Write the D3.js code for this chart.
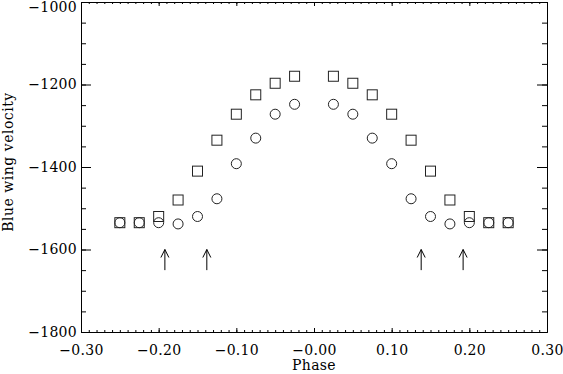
<!DOCTYPE html>
<html>
<head>
<meta charset="utf-8">
<script src="https://cdn.jsdelivr.net/npm/d3@7"></script>
<style>
  body { margin: 0; background: #fff; }
  text { font-family: "DejaVu Serif", serif; font-size: 14px; fill: #000; }
  .axis path, .axis line { stroke: #000; stroke-width: 1; }
</style>
</head>
<body>
<div class="container"></div>
<script>
// phases of the points (left and right wing)
let phases = [-0.25, -0.225, -0.20, -0.175, -0.15, -0.125, -0.10, -0.075, -0.05, -0.025,
              0.025, 0.05, 0.075, 0.10, 0.125, 0.15, 0.175, 0.20, 0.225, 0.25];
// squares
let squareVel = [-1535, -1535, -1520, -1480, -1410, -1335, -1272, -1225, -1197, -1180,
                 -1180, -1197, -1225, -1272, -1335, -1410, -1480, -1520, -1535, -1535];
// circles
let circleVel = [-1535, -1535, -1535, -1538, -1520, -1477, -1392, -1330, -1272, -1248,
                 -1248, -1272, -1330, -1392, -1477, -1520, -1538, -1535, -1535, -1535];
// arrows
let arrowPhases = [-0.192, -0.138, 0.138, 0.192];
let arrowFrom = -1650, arrowTo = -1600;

let xTicks = [-0.3, -0.2, -0.1, 0, 0.1, 0.2, 0.3];
let xTickLabels = ["\u22120.30", "\u22120.20", "\u22120.10", "\u22120.00", "0.10", "0.20", "0.30"];
let yTicks = [-1000, -1200, -1400, -1600, -1800];
let yTickLabels = ["\u22121000", "\u22121200", "\u22121400", "\u22121600", "\u22121800"];

let margin = { top: 2, right: 16, bottom: 42, left: 81 };
let width = 563 - margin.left - margin.right;
let height = 374 - margin.top - margin.bottom;

let svg = d3.select(".container")
    .append("svg")
    .attr("width", 563)
    .attr("height", 374)
    .append("g")
    .attr("transform", "translate(" + margin.left + "," + margin.top + ")");

let x = d3.scaleLinear().domain([-0.3, 0.3]).range([0, width]);
let y = d3.scaleLinear().domain([-1800, -1000]).range([height, 0]);

let xMinor = d3.range(-30, 31).map(d => d / 100);
let yMinor = d3.range(-1800, -999, 50);

// bottom axis
svg.append("g")
    .attr("class", "axis")
    .attr("transform", "translate(0," + height + ")")
    .call(d3.axisBottom(x).tickValues(xMinor).tickSize(-2).tickFormat("").tickSizeOuter(0));
svg.append("g")
    .attr("class", "axis")
    .attr("transform", "translate(0," + height + ")")
    .call(d3.axisBottom(x).tickValues(xTicks).tickSize(-4).tickSizeOuter(0).tickPadding(10)
        .tickFormat((d, i) => xTickLabels[i]))
    .selectAll("text").attr("dy", "0.9em");
// top axis
svg.append("g")
    .attr("class", "axis")
    .call(d3.axisTop(x).tickValues(xMinor).tickSize(-2).tickFormat("").tickSizeOuter(0));
svg.append("g")
    .attr("class", "axis")
    .call(d3.axisTop(x).tickValues(xTicks).tickSize(-4).tickFormat("").tickSizeOuter(0));
// left axis
svg.append("g")
    .attr("class", "axis")
    .call(d3.axisLeft(y).tickValues(yMinor).tickSize(-5).tickFormat("").tickSizeOuter(0));
svg.append("g")
    .attr("class", "axis yleft")
    .call(d3.axisLeft(y).tickValues(yTicks).tickSize(-10).tickSizeOuter(0).tickPadding(4)
        .tickFormat((d, i) => yTickLabels[i]));
// keep the top label inside the picture
svg.selectAll(".yleft .tick text")
    .filter(d => d === -1000)
    .attr("y", 5);
// right axis
svg.append("g")
    .attr("class", "axis")
    .attr("transform", "translate(" + width + ",0)")
    .call(d3.axisRight(y).tickValues(yMinor).tickSize(-5).tickFormat("").tickSizeOuter(0));
svg.append("g")
    .attr("class", "axis")
    .attr("transform", "translate(" + width + ",0)")
    .call(d3.axisRight(y).tickValues(yTicks).tickSize(-10).tickFormat("").tickSizeOuter(0));

svg.selectAll(".axis .tick text")
    .style("font-family", "DejaVu Serif")
    .style("font-size", "14px")
    .style("letter-spacing", "0.3px");

// labels
svg.append("text")
    .attr("x", width / 2)
    .attr("y", 370 - margin.top)
    .attr("text-anchor", "middle")
    .style("letter-spacing", "0.3px")
    .text("Phase");

svg.append("text")
    .attr("transform", "translate(" + (13 - margin.left) + "," + (162 - margin.top) + ") rotate(-90)")
    .attr("text-anchor", "middle")
    .style("letter-spacing", "0.5px")
    .text("Blue wing velocity");

let data = phases.map((p, i) => ({ p: p, s: squareVel[i], c: circleVel[i] }));

// squares
svg.append("g")
    .selectAll("rect")
    .data(data)
    .enter()
    .append("rect")
    .attr("x", d => x(d.p) - 5)
    .attr("y", d => y(d.s) - 5)
    .attr("width", 10)
    .attr("height", 10)
    .style("fill", "none")
    .attr("stroke", "#222");

// circles
svg.append("g")
    .selectAll("circle")
    .data(data)
    .enter()
    .append("circle")
    .attr("cx", d => x(d.p))
    .attr("cy", d => y(d.c))
    .attr("r", 5)
    .style("fill", "none")
    .attr("stroke", "#222");

// arrows
let arrows = svg.append("g").attr("stroke", "#000").attr("fill", "none");
arrowPhases.forEach(p => {
    arrows.append("line")
        .attr("x1", x(p)).attr("x2", x(p))
        .attr("y1", y(arrowFrom)).attr("y2", y(arrowTo));
    arrows.append("path")
        .attr("d", "M" + (x(p) - 4) + "," + (y(arrowTo) + 8) + "L" + x(p) + "," + y(arrowTo) +
            "L" + (x(p) + 4) + "," + (y(arrowTo) + 8));
});
</script>
</body>
</html>
